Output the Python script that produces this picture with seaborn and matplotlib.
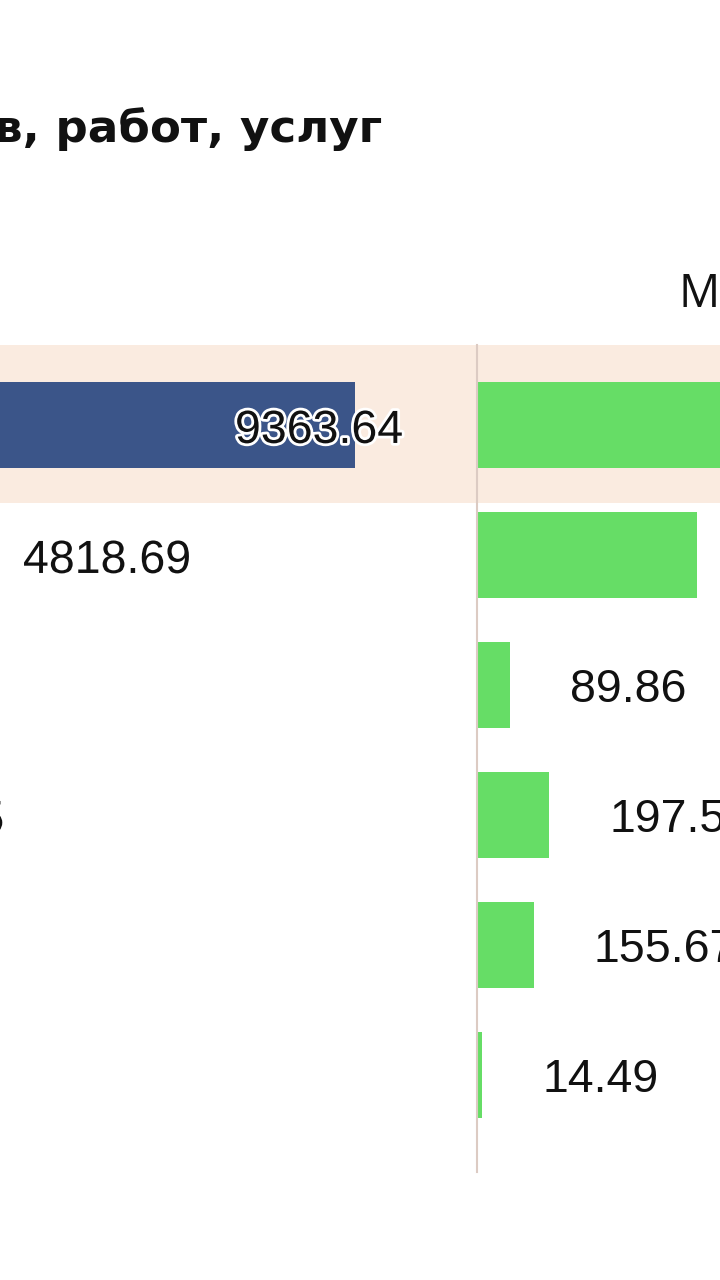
import matplotlib
matplotlib.use("Agg")
import matplotlib.pyplot as plt
import matplotlib.patheffects as pe
import seaborn as sns
import pandas as pd

# ---- data ----
categories = ["Итого", "Аукцион", "Конкурс", "Запрос котировок",
              "Запрос предложений", "Единственный поставщик"]
left_values = [9363.64, 4818.69, 1523.40, 2646.35, 1880.12, 412.75]
right_values = [845.20, 601.27, 89.86, 197.54, 155.67, 14.49]
highlight_row = 0

title_text = "Объём закупок товаров, работ, услуг"
right_header = "Млн руб."

BLUE = "#3B5589"
GREEN = "#66DD66"
PEACH = "#FAEBE0"
DIVIDER = "#DCCBC3"

sns.set_theme(style="white")
plt.rcParams["font.family"] = ["Liberation Sans", "DejaVu Sans"]

W, H, DPI = 720, 1280, 100
fig = plt.figure(figsize=(W / DPI, H / DPI), dpi=DPI)
fig.patch.set_facecolor("white")


def px_axes(x0, x1, ytop, ybot):
    return fig.add_axes([x0 / W, 1 - ybot / H, (x1 - x0) / W, (ybot - ytop) / H])


df = pd.DataFrame({"cat": categories, "left": left_values, "right": right_values})

YTOP, YBOT = 345, 1172
ylim = (5.746, -0.615)

# left panel (extends beyond left edge of the figure)
axl = px_axes(-450.6, 477, YTOP, YBOT)
axl.axhspan(-0.615, 0.6, color=PEACH, zorder=0, lw=0)
sns.barplot(data=df, y="cat", x="left", color=BLUE, orient="h", width=0.66,
            ax=axl, zorder=2, saturation=1, linewidth=0)
axl.set_xlim(0, (477 + 450.6) / 0.08603)
axl.set_ylim(*ylim)

# right panel (extends beyond right edge of the figure)
axr = px_axes(477, 1000, YTOP, YBOT)
axr.axhspan(-0.615, 0.6, color=PEACH, zorder=0, lw=0)
sns.barplot(data=df, y="cat", x="right", color=GREEN, orient="h", width=0.66,
            ax=axr, zorder=2, saturation=1, linewidth=0)
axr.set_xlim(0, (1000 - 477) / 0.366)
axr.set_ylim(*ylim)

for ax in (axl, axr):
    ax.set_facecolor("none")
    ax.set_xlabel("")
    ax.set_ylabel("")
    ax.set_xticks([])
    ax.set_yticks([])
    for s in ax.spines.values():
        s.set_visible(False)
axr.spines["left"].set_visible(True)
axr.spines["left"].set_color(DIVIDER)
axr.spines["left"].set_linewidth(1.5)

PT = 72 / DPI
lab_kw = dict(textcoords="offset points", ha="left", va="center",
              fontsize=33.5, color="#111111", annotation_clip=False)
halo = [pe.withStroke(linewidth=4, foreground="white")]

for i, v in enumerate(left_values):
    off = -120 if i == highlight_row else 59
    axl.annotate(f"{v:.2f}", xy=(v, i), xytext=(off * PT, -6 * PT),
                 path_effects=halo, **lab_kw)

for i, v in enumerate(right_values):
    axr.annotate(f"{v:.2f}", xy=(v, i), xytext=(60 * PT, -5 * PT), **lab_kw)

fig.text(382 / W, 1 - 142 / H, title_text, ha="right", va="baseline",
         fontfamily=["DejaVu Sans"], fontweight="bold",
         fontsize=32.5, color="#111111")
fig.text(679 / W, 1 - 307 / H, right_header, ha="left", va="baseline",
         fontfamily=["Open Sans", "DejaVu Sans"], fontsize=33,
         color="#111111")

fig.savefig("out.png", dpi=DPI, facecolor="white")
